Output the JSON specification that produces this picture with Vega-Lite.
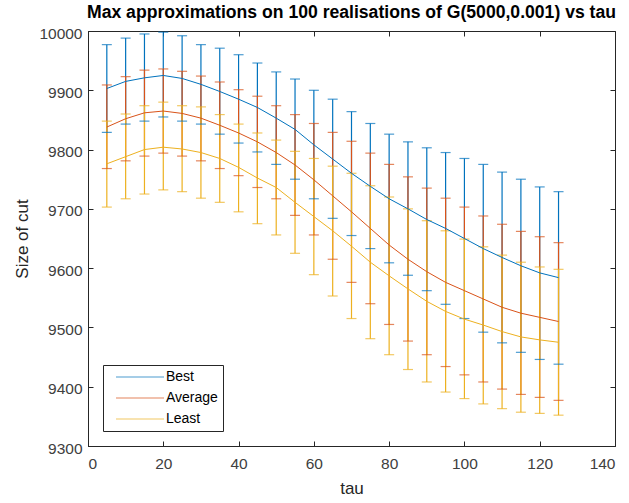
{
  "$schema": "https://vega.github.io/schema/vega-lite/v6.json",
  "width": 527,
  "height": 415,
  "autosize": {"type": "none"},
  "padding": {"left": 88, "top": 31, "right": 14, "bottom": 57},
  "title": {"text": "Max approximations on 100 realisations of G(5000,0.001) vs tau", "fontSize": 17.6, "fontWeight": "bold", "font": "Liberation Sans", "color": "#000000", "offset": 4, "anchor": "middle"},
  "config": {
    "font": "Liberation Sans",
    "view": {"stroke": "#262626", "strokeWidth": 1},
    "axis": {"grid": false, "domainColor": "#262626", "tickColor": "#262626", "labelColor": "#404040", "labelFontSize": 15.5, "titleFontSize": 17, "titleFontWeight": "normal", "titleColor": "#262626", "labelFont": "Liberation Sans", "titleFont": "Liberation Sans"}
  },
  "data": {"values": [
    {"tau":5,"series":"Best","mean":9903,"lo":9829,"hi":9977},
    {"tau":10,"series":"Best","mean":9915,"lo":9843,"hi":9988},
    {"tau":15,"series":"Best","mean":9921,"lo":9848,"hi":9995},
    {"tau":20,"series":"Best","mean":9925,"lo":9855,"hi":9998},
    {"tau":25,"series":"Best","mean":9920,"lo":9848,"hi":9992},
    {"tau":30,"series":"Best","mean":9910,"lo":9843,"hi":9977},
    {"tau":35,"series":"Best","mean":9898,"lo":9826,"hi":9971},
    {"tau":40,"series":"Best","mean":9885,"lo":9811,"hi":9960},
    {"tau":45,"series":"Best","mean":9871,"lo":9796,"hi":9946},
    {"tau":50,"series":"Best","mean":9853,"lo":9775,"hi":9931},
    {"tau":55,"series":"Best","mean":9834,"lo":9750,"hi":9919},
    {"tau":60,"series":"Best","mean":9808,"lo":9717,"hi":9900},
    {"tau":65,"series":"Best","mean":9784,"lo":9684,"hi":9885},
    {"tau":70,"series":"Best","mean":9760,"lo":9655,"hi":9864},
    {"tau":75,"series":"Best","mean":9738,"lo":9633,"hi":9844},
    {"tau":80,"series":"Best","mean":9717,"lo":9609,"hi":9826},
    {"tau":85,"series":"Best","mean":9700,"lo":9588,"hi":9813},
    {"tau":90,"series":"Best","mean":9682,"lo":9562,"hi":9803},
    {"tau":95,"series":"Best","mean":9667,"lo":9539,"hi":9795},
    {"tau":100,"series":"Best","mean":9650,"lo":9515,"hi":9785},
    {"tau":105,"series":"Best","mean":9633,"lo":9492,"hi":9775},
    {"tau":110,"series":"Best","mean":9618,"lo":9474,"hi":9762},
    {"tau":115,"series":"Best","mean":9604,"lo":9458,"hi":9750},
    {"tau":120,"series":"Best","mean":9592,"lo":9446,"hi":9737},
    {"tau":125,"series":"Best","mean":9584,"lo":9438,"hi":9729},
    {"tau":5,"series":"Average","mean":9838,"lo":9768,"hi":9909},
    {"tau":10,"series":"Average","mean":9852,"lo":9781,"hi":9923},
    {"tau":15,"series":"Average","mean":9862,"lo":9789,"hi":9934},
    {"tau":20,"series":"Average","mean":9865,"lo":9794,"hi":9936},
    {"tau":25,"series":"Average","mean":9861,"lo":9789,"hi":9932},
    {"tau":30,"series":"Average","mean":9853,"lo":9781,"hi":9924},
    {"tau":35,"series":"Average","mean":9841,"lo":9768,"hi":9914},
    {"tau":40,"series":"Average","mean":9828,"lo":9756,"hi":9901},
    {"tau":45,"series":"Average","mean":9813,"lo":9736,"hi":9890},
    {"tau":50,"series":"Average","mean":9795,"lo":9717,"hi":9874},
    {"tau":55,"series":"Average","mean":9774,"lo":9689,"hi":9859},
    {"tau":60,"series":"Average","mean":9749,"lo":9656,"hi":9844},
    {"tau":65,"series":"Average","mean":9722,"lo":9615,"hi":9829},
    {"tau":70,"series":"Average","mean":9695,"lo":9576,"hi":9814},
    {"tau":75,"series":"Average","mean":9667,"lo":9540,"hi":9794},
    {"tau":80,"series":"Average","mean":9639,"lo":9505,"hi":9775},
    {"tau":85,"series":"Average","mean":9615,"lo":9477,"hi":9754},
    {"tau":90,"series":"Average","mean":9594,"lo":9454,"hi":9735},
    {"tau":95,"series":"Average","mean":9576,"lo":9434,"hi":9718},
    {"tau":100,"series":"Average","mean":9562,"lo":9420,"hi":9703},
    {"tau":105,"series":"Average","mean":9548,"lo":9408,"hi":9688},
    {"tau":110,"series":"Average","mean":9534,"lo":9396,"hi":9674},
    {"tau":115,"series":"Average","mean":9524,"lo":9387,"hi":9662},
    {"tau":120,"series":"Average","mean":9517,"lo":9382,"hi":9653},
    {"tau":125,"series":"Average","mean":9510,"lo":9377,"hi":9643},
    {"tau":5,"series":"Least","mean":9776,"lo":9703,"hi":9848},
    {"tau":10,"series":"Least","mean":9788,"lo":9717,"hi":9860},
    {"tau":15,"series":"Least","mean":9800,"lo":9725,"hi":9874},
    {"tau":20,"series":"Least","mean":9804,"lo":9732,"hi":9880},
    {"tau":25,"series":"Least","mean":9801,"lo":9729,"hi":9874},
    {"tau":30,"series":"Least","mean":9795,"lo":9718,"hi":9872},
    {"tau":35,"series":"Least","mean":9785,"lo":9711,"hi":9859},
    {"tau":40,"series":"Least","mean":9770,"lo":9695,"hi":9843},
    {"tau":45,"series":"Least","mean":9752,"lo":9675,"hi":9828},
    {"tau":50,"series":"Least","mean":9736,"lo":9656,"hi":9816},
    {"tau":55,"series":"Least","mean":9711,"lo":9625,"hi":9797},
    {"tau":60,"series":"Least","mean":9687,"lo":9589,"hi":9785},
    {"tau":65,"series":"Least","mean":9663,"lo":9553,"hi":9772},
    {"tau":70,"series":"Least","mean":9637,"lo":9515,"hi":9760},
    {"tau":75,"series":"Least","mean":9610,"lo":9481,"hi":9739},
    {"tau":80,"series":"Least","mean":9587,"lo":9454,"hi":9720},
    {"tau":85,"series":"Least","mean":9565,"lo":9429,"hi":9700},
    {"tau":90,"series":"Least","mean":9544,"lo":9408,"hi":9680},
    {"tau":95,"series":"Least","mean":9527,"lo":9391,"hi":9663},
    {"tau":100,"series":"Least","mean":9514,"lo":9380,"hi":9649},
    {"tau":105,"series":"Least","mean":9504,"lo":9371,"hi":9636},
    {"tau":110,"series":"Least","mean":9493,"lo":9363,"hi":9622},
    {"tau":115,"series":"Least","mean":9484,"lo":9357,"hi":9610},
    {"tau":120,"series":"Least","mean":9479,"lo":9355,"hi":9602},
    {"tau":125,"series":"Least","mean":9475,"lo":9352,"hi":9598}
  ]},
  "resolve": {"axis": {"x": "independent", "y": "independent"}},
  "layer": [
    {
      "mark": {"type": "rule", "strokeWidth": 1.2},
      "encoding": {
        "x": {"field": "tau", "type": "quantitative", "scale": {"domain": [0, 140], "nice": false, "zero": false},
              "axis": {"orient": "bottom", "values": [0,20,40,60,80,100,120,140], "tickSize": -5, "labelPadding": 15, "title": "tau", "titlePadding": 9}},
        "y": {"field": "lo", "type": "quantitative", "scale": {"domain": [9300, 10000], "nice": false, "zero": false},
              "axis": {"orient": "left", "values": [9300,9400,9500,9600,9700,9800,9900,10000], "format": "d", "tickSize": -5, "labelPadding": 11, "labelOffset": 2, "title": "Size of cut", "titlePadding": 7}},
        "y2": {"field": "hi"},
        "color": {"field": "series", "type": "nominal",
                  "scale": {"domain": ["Best", "Average", "Least"], "range": ["#0072BD", "#D95319", "#EDB120"]},
                  "legend": {"orient": "none", "legendX": 15, "legendY": 334, "title": null, "symbolType": "M-4.8,0H4.8", "symbolSize": 100, "symbolOffset": 25, "symbolStrokeWidth": 1.2, "labelFontSize": 14, "labelColor": "#000000", "strokeColor": "#262626", "fillColor": "#ffffff", "padding": 5, "rowPadding": 7, "labelOffset": 19, "labelLimit": 200}}
      }
    },
    {
      "mark": {"type": "tick", "orient": "horizontal", "size": 10, "thickness": 1.2},
      "encoding": {
        "x": {"field": "tau", "type": "quantitative", "axis": null},
        "y": {"field": "lo", "type": "quantitative", "axis": null},
        "color": {"field": "series", "type": "nominal"}
      }
    },
    {
      "mark": {"type": "tick", "orient": "horizontal", "size": 10, "thickness": 1.2},
      "encoding": {
        "x": {"field": "tau", "type": "quantitative", "axis": null},
        "y": {"field": "hi", "type": "quantitative", "axis": null},
        "color": {"field": "series", "type": "nominal"}
      }
    },
    {
      "mark": {"type": "line", "strokeWidth": 1},
      "encoding": {
        "x": {"field": "tau", "type": "quantitative", "axis": {"orient": "top", "values": [0,20,40,60,80,100,120,140], "tickSize": -5, "labels": false, "title": null, "domain": false}},
        "y": {"field": "mean", "type": "quantitative", "axis": {"orient": "right", "values": [9300,9400,9500,9600,9700,9800,9900,10000], "tickSize": -5, "labels": false, "title": null, "domain": false}},
        "color": {"field": "series", "type": "nominal"}
      }
    }
  ]
}
